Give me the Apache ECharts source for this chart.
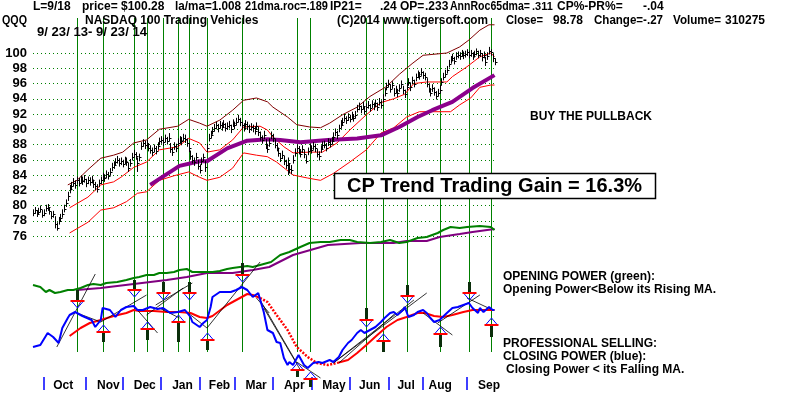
<!DOCTYPE html>
<html><head><meta charset="utf-8">
<script src="https://cdn.jsdelivr.net/npm/echarts@6/dist/echarts.min.js"></script>
<style>html,body{margin:0;padding:0;background:#fff}#c{width:800px;height:395px}</style>
</head><body><div id="c"></div>
<script>
// ---------- DATA (trading-day index 0 = 9/23/13) ----------
const closes = [
79.0,79.4,78.9,79.2,79.6,78.8,79.0,79.7,79.8,79.3,78.6,78.9,
77.6,77.1,78.0, 78.4,78.9,79.6,80.3, 81.2,82.2,82.6,
83.0,82.7,83.3,83.0,83.4, 83.2,83.5,82.9,83.3,83.1,83.4,82.8,
82.6,82.2,82.9, 83.3,83.8,83.6,84.1,83.9,84.4, 85.0,85.3,85.7,
86.0,85.6,85.8,85.5,85.9,85.7,84.9,85.6, 86.4,86.8,86.5, 85.6,86.3,
87.8,88.2,87.9,88.1,87.6, 87.3,87.0,87.5,87.2,87.8,88.4,
88.6,88.3,88.8,88.5,88.9, 87.4,87.0,87.8,87.5, 88.2,88.6,88.4,88.9,88.7,88.2,
87.5,86.5,86.0,85.7, 86.4,85.2,84.7,85.8,86.3,85.0, 87.6,88.9,89.3,89.8,90.2,
90.5,90.1,90.6,90.3,90.7,90.2, 90.4,90.6,90.0,90.8,90.5,91.0,91.4,90.9,
90.5,90.2,90.7,90.4,90.0,90.3, 90.1,89.8,90.4,89.6,89.0,88.6,89.2,
88.0,87.4,88.2,89.2,88.8, 88.0,87.6,86.9,86.2,86.6, 85.8,85.3,85.6,84.8,84.6,
86.0,86.9,87.5,87.2,86.8,87.4, 86.7,85.9,87.1,87.6,87.3, 87.8,87.5,86.8,86.5,87.4,87.9,
88.0,87.6,88.3,88.1,88.5, 89.0,89.6,89.2,90.1,90.6,
91.0,91.5,91.2,91.6,91.4,91.8,91.5,91.9, 92.7,93.0,92.6,
93.1,92.4,92.9,93.2,92.8,93.3,93.0, 93.4,92.9,93.6,93.2,94.0,
94.8,95.6,96.0,95.3,95.8,94.8, 95.2,94.7,95.4,95.9,95.1,94.6,
95.6,96.2,95.5,96.4,96.0, 96.8,97.2,97.0,97.5,97.1,96.9,
96.0,95.3,94.8,95.4, 94.9,94.4,94.8,95.2, 96.2,96.9,97.3,97.8,98.6,
99.1,99.4,99.0,99.6,99.8,99.6, 100.0,99.7,99.9,100.1,99.8,
100.0,99.6,99.9,100.2,99.8,100.0,99.5,99.8, 98.8,99.6,100.3, 100.1,99.3,98.78
];
const highs = [
79.5,79.8,79.4,79.7,80.0,79.4,79.5,80.1,80.2,79.8,79.2,79.3,
78.6,77.8,78.5, 78.9,79.5,80.1,80.8, 81.8,82.7,83.1,
83.6,83.3,83.8,83.6,83.9, 83.8,84.0,83.5,83.8,83.7,83.9,83.4,
83.1,82.8,83.4, 83.8,84.3,84.1,84.6,84.4,84.9, 85.6,85.8,86.2,
86.5,86.2,86.3,86.0,86.4,86.3,85.6,86.1, 86.9,87.3,87.0, 86.3,86.8,
88.3,88.7,88.5,88.6,88.2, 87.9,87.6,88.0,87.8,88.3,88.9,
89.1,88.9,89.3,89.0,89.5, 88.2,87.6,88.3,88.1, 88.8,89.1,89.0,89.4,89.3,88.8,
88.2,87.2,86.6,86.3, 86.9,86.0,85.4,86.3,86.8,85.9, 88.1,89.4,89.8,90.3,90.7,
91.0,90.7,91.1,90.9,91.2,90.8, 90.9,91.1,90.6,91.3,91.0,91.5,91.9,91.5,
91.0,90.8,91.2,91.0,90.6,90.8, 90.6,90.4,90.9,90.3,89.7,89.2,89.8,
88.7,88.1,88.8,89.7,89.4, 88.7,88.2,87.6,86.9,87.2, 86.5,86.0,86.3,85.5,85.3,
86.6,87.5,88.0,87.8,87.4,87.9, 87.3,86.6,87.6,88.1,87.9, 88.3,88.1,87.4,87.1,87.9,88.4,
88.5,88.2,88.8,88.7,89.0, 89.6,90.1,89.8,90.6,91.2,
91.5,92.0,91.7,92.1,91.9,92.3,92.0,92.4, 93.2,93.5,93.1,
93.6,93.0,93.4,93.7,93.3,93.8,93.5, 93.9,93.5,94.1,93.8,94.6,
95.4,96.1,96.5,95.9,96.3,95.4, 95.7,95.3,95.9,96.4,95.7,95.2,
96.1,96.7,96.1,96.9,96.5, 97.3,97.7,97.5,98.0,97.6,97.4,
96.7,95.9,95.4,95.9, 95.5,95.0,95.3,95.8, 96.7,97.4,97.8,98.3,99.1,
99.6,99.9,99.5,100.1,100.2,100.1, 100.4,100.2,100.3,100.5,100.3,
100.4,100.1,100.3,100.6,100.3,100.4,100.0,100.2, 99.5,100.1,100.8, 100.5,99.9,99.3
];
const lows = [
78.6,78.9,78.5,78.8,79.1,78.4,78.6,79.2,79.3,78.8,78.2,78.4,
77.0,76.7,77.5, 77.9,78.4,79.1,79.8, 80.6,81.6,82.0,
82.5,82.2,82.8,82.5,82.9, 82.7,83.0,82.4,82.8,82.6,82.9,82.3,
82.0,81.7,82.4, 82.8,83.3,83.1,83.6,83.4,83.9, 84.5,84.8,85.2,
85.5,85.1,85.3,85.0,85.4,85.2,84.4,85.1, 85.9,86.3,86.0, 84.4,85.8,
87.3,87.7,87.4,87.6,87.1, 86.8,86.5,87.0,86.7,87.3,87.9,
88.1,87.8,88.3,88.0,88.4, 86.9,86.5,87.3,87.0, 87.7,88.1,87.9,88.4,88.2,87.7,
87.0,86.0,85.5,85.2, 85.9,84.7,84.2,85.3,85.8,84.4, 87.0,88.4,88.8,89.3,89.7,
90.0,89.6,90.1,89.8,90.2,89.7, 89.9,90.1,89.5,90.3,90.0,90.5,90.9,90.4,
90.0,89.7,90.2,89.9,89.5,89.8, 89.6,89.3,89.9,89.1,88.5,88.1,88.7,
87.4,86.9,87.7,88.7,88.3, 87.5,87.1,86.4,85.7,86.1, 85.3,84.8,84.0,84.2,84.1,
85.5,86.4,87.0,86.7,86.3,86.9, 86.2,85.5,86.6,87.1,86.8, 87.3,87.0,86.3,85.9,86.9,87.4,
87.5,87.1,87.8,87.6,88.0, 88.5,89.1,88.7,89.6,90.1,
90.5,91.0,90.7,91.1,90.9,91.3,91.0,91.4, 92.2,92.5,92.1,
92.6,91.9,92.4,92.7,92.3,92.8,92.5, 92.9,92.4,93.1,92.7,93.5,
94.3,95.1,95.5,94.8,95.3,94.3, 94.7,94.2,94.9,95.4,94.6,94.1,
95.1,95.7,95.0,95.9,95.5, 96.3,96.7,96.5,97.0,96.6,96.4,
95.5,94.8,94.3,94.9, 94.4,93.9,94.3,94.7, 95.7,96.4,96.8,97.3,98.1,
98.6,98.9,98.5,99.1,99.3,99.1, 99.5,99.2,99.4,99.6,99.3,
99.5,99.1,99.4,99.7,99.3,99.5,98.9,99.3, 98.3,99.1,99.8, 99.6,98.8,98.4
];
// bands [day, price]
const upperBand = [[19,82.7],[24,83.3],[30,84.7],[37,86.2],[44,86.6],[49,87.0],[55,88.2],[62,88.6],[69,90.0],[79,90.4],[85,91.3],[91,90.8],[95,90.4],[102,91.2],[109,92.5],[115,93.8],[122,94.1],[128,93.6],[131,92.9],[139,91.6],[144,90.6],[151,90.3],[157,90.2],[162,90.8],[169,91.9],[177,92.9],[184,94.3],[193,95.6],[200,97.2],[207,98.6],[213,99.7],[226,100.0],[233,100.8],[238,101.7],[244,103.0],[249,103.7],[252,103.7]];
const midBand = [[20,79.7],[30,81.1],[37,82.7],[44,83.1],[48,83.7],[55,85.0],[62,85.7],[69,87.3],[79,87.7],[85,88.8],[91,88.2],[95,87.0],[102,87.3],[109,88.6],[115,90.3],[124,90.4],[128,89.9],[131,89.0],[137,87.7],[142,86.9],[151,87.0],[158,87.0],[166,88.2],[173,89.9],[182,91.9],[190,93.5],[197,94.0],[203,94.6],[208,96.0],[215,96.2],[226,96.2],[229,96.9],[237,98.2],[244,99.5],[250,100.0],[252,99.5]];
const lowBand = [[20,76.4],[30,77.8],[37,79.4],[44,79.7],[51,80.5],[57,81.6],[62,81.8],[69,83.3],[77,83.9],[85,84.4],[91,83.7],[95,83.3],[102,83.7],[109,84.9],[115,86.9],[122,86.6],[128,86.4],[133,85.7],[142,84.0],[150,83.6],[157,83.3],[164,84.2],[173,85.7],[182,87.3],[190,89.5],[197,90.2],[204,91.6],[211,92.3],[228,92.3],[233,93.2],[239,94.1],[244,95.5],[250,95.8],[252,95.8]];
const priceMA = [[64,82.7],[80,85.2],[91,85.8],[95,85.8],[106,87.5],[117,88.5],[128,88.7],[135,88.6],[146,88.3],[161,88.6],[177,88.8],[190,89.2],[200,90.3],[210,91.6],[218,92.5],[229,93.6],[240,95.4],[252,97.1]];
// indicator panel (arbitrary power units)
const openingPower = [[0,95],[4,93],[7,88],[9,90],[12,87],[15,88],[19,90],[22,90],[26,92],[30,95],[33,96],[37,95],[40,97],[46,98],[51,100],[55,102],[58,103],[62,105],[66,105],[69,107],[73,107],[77,108],[80,110],[84,111],[87,108],[91,108],[95,108],[98,108],[102,109],[106,111],[109,112],[113,113],[117,114],[120,113],[124,115],[128,117],[130,118],[135,125],[140,128],[146,133],[151,137],[157,138],[162,138],[168,140],[173,140],[177,138],[184,137],[190,138],[195,140],[200,137],[204,138],[210,142],[215,143],[221,147],[224,150],[228,153],[233,152],[237,153],[244,154],[250,153],[252,150]];
const openingPowerMA = [[24,90],[37,92],[55,96],[73,100],[84,103],[95,107],[109,107],[120,110],[129,113],[142,125],[161,135],[179,137],[197,137],[204,139],[215,139],[222,143],[233,146],[240,148],[252,151]];
const closingPower = [[0,33],[4,35],[8,47],[9,48],[11,43],[14,37],[16,52],[19,62],[20,65],[23,68],[27,64],[32,60],[34,53],[37,60],[38,72],[42,70],[45,63],[48,70],[51,73],[55,74],[57,70],[60,70],[64,73],[68,71],[71,72],[75,67],[79,68],[83,70],[86,63],[87,58],[91,53],[93,57],[95,60],[97,73],[98,83],[102,88],[108,88],[111,90],[114,93],[117,90],[120,83],[123,87],[126,68],[128,50],[129,48],[131,47],[133,38],[135,37],[137,22],[139,15],[140,18],[142,15],[145,25],[148,15],[150,12],[153,17],[156,18],[158,17],[162,20],[164,18],[167,23],[169,30],[172,37],[174,40],[177,47],[179,50],[181,47],[184,50],[187,53],[190,58],[192,62],[195,67],[197,68],[199,65],[202,70],[203,73],[205,63],[208,65],[210,68],[213,70],[215,67],[217,62],[219,58],[222,60],[226,67],[229,72],[232,73],[235,75],[238,77],[240,72],[243,67],[244,72],[246,68],[249,73],[251,70],[252,70]];
const closingPowerMA = [[20,44],[26,52],[31,57],[37,60],[44,64],[51,67],[55,70],[58,69],[66,69],[73,68],[80,68],[86,67],[91,63],[95,62],[98,64],[106,75],[113,82],[117,86],[120,85],[124,82],[128,78],[133,65],[139,50],[144,33],[150,23],[155,17],[161,15],[166,17],[172,20],[177,27],[182,35],[188,45],[193,53],[199,60],[204,63],[210,67],[214,67],[219,64],[224,63],[229,65],[235,68],[240,70],[248,70],[252,70]];
const cpMaFallingFrom = 124, cpMaFallingTo = 166;
// signals
const signalDays = [24,38,55,62,71,79,85,95,114,144,151,182,191,204,222,238,250];
const arrowDir   = [-1,1,-1,1,-1,1,-1,1,-1,1,1,-1,1,-1,1,-1,1];
const arrowTip   = [72,55,83,58,80,65,80,47,98,17,8,53,46,77,53,80,62];
const arrowTail  = [90,38,100,40,98,38,98,30,117,3,-7,72,28,95,33,98,43];
const trendLines = [[13,33,34,106],[24,67,37,58],[37,58,62,85],[57,70,68,47],[62,65,82,92],[67,75,87,97],[69,72,80,62],[84,68,95,52],[95,52,124,118],[122,82,129,67],[124,80,144,17],[126,72,146,10],[144,18,157,2],[164,17,215,87],[164,17,208,80],[167,17,198,67],[213,67,229,45],[221,57,244,85],[237,82,251,70]];
// axis
const monthNames = ['Oct','Nov','Dec','Jan','Feb','Mar','Apr','May','Jun','Jul','Aug','Sep'];
const monthStartDays = [6,29,49,70,91,110,131,152,173,194,213,237];
const monthLabelDays = [11,35,55,76,96,116,137,158,178,199,216,243];
const priceMin = 76, priceMax = 100, priceStep = 2;

// ---------- CHART ----------
const FONT = '"Liberation Sans", Arial, sans-serif';
const LASTDAY = closes.length - 1;
const chart = echarts.init(document.getElementById('c'), null, {renderer: 'canvas'});
const G = {left: 33, width: 461.5};
const mctx = document.createElement('canvas').getContext('2d');
function xAx(i, extra) { return Object.assign({type: 'value', gridIndex: i, min: 0, max: LASTDAY, show: false}, extra || {}); }
function ln(data, color, width, g, extra) {
  return Object.assign({type: 'line', xAxisIndex: g, yAxisIndex: g, data: data, symbol: 'none', showSymbol: false,
    clip: false, silent: true, lineStyle: {color: color, width: width}, z: 3}, extra || {});
}
// text; optional w = width the text should occupy (matches the original bitmap font widths)
function txt(x, y, s, size, w, extra) {
  const font = 'bold ' + size + 'px ' + FONT;
  let sx = 1;
  if (w) { mctx.font = font; sx = w / mctx.measureText(s).width; }
  return {type: 'text', x: x, y: y, scaleX: sx, scaleY: 1, z: 100, silent: true,
    style: Object.assign({text: s, font: font, fill: '#000', verticalAlign: 'middle'}, extra || {})};
}
const cpSolidA = closingPowerMA.filter(p => p[0] <= cpMaFallingFrom);
const cpSolidB = closingPowerMA.filter(p => p[0] >= cpMaFallingTo);
const cpFall = closingPowerMA.filter(p => p[0] >= cpMaFallingFrom && p[0] <= cpMaFallingTo);

const option = {
  animation: false,
  backgroundColor: '#fff',
  grid: [
    {left: G.left, width: G.width, top: 53, height: 183},
    {left: G.left, width: G.width, top: 18, height: 334},
    {left: G.left, width: G.width, top: 220, height: 160},
    {left: G.left, width: G.width, top: 376, height: 1}
  ],
  xAxis: [xAx(0), xAx(1), xAx(2), xAx(3, {
    show: true,
    axisLine: {show: false},
    splitLine: {show: false},
    axisTick: {show: true, customValues: monthStartDays, length: 13, lineStyle: {color: '#0000ff', width: 1.5}},
    axisLabel: {show: true, customValues: monthLabelDays, align: 'left', margin: 3,
      formatter: v => monthNames[monthLabelDays.indexOf(v)] || '',
      fontFamily: FONT, fontWeight: 'bold', fontSize: 12, color: '#000'}
  })],
  yAxis: [
    {type: 'value', gridIndex: 0, min: priceMin, max: priceMax, interval: priceStep,
      axisLine: {show: false}, axisTick: {show: false},
      axisLabel: {margin: 6, fontFamily: FONT, fontWeight: 'bold', fontSize: 13, color: '#000'},
      splitLine: {show: true, lineStyle: {color: '#008000', type: [1, 3], width: 1}}},
    {type: 'value', gridIndex: 1, min: 0, max: 1, show: false},
    {type: 'value', gridIndex: 2, min: 0, max: 160, show: false},
    {type: 'value', gridIndex: 3, min: 0, max: 1, show: false}
  ],
  series: [
    {type: 'custom', xAxisIndex: 1, yAxisIndex: 1, silent: true, z: 1,
      data: signalDays.map(d => [d]),
      renderItem: (p, api) => {
        const a = api.coord([api.value(0), 0]), b = api.coord([api.value(0), 1]);
        const x = Math.round(a[0]) + 0.5;
        return {type: 'line', shape: {x1: x, y1: a[1], x2: x, y2: b[1]}, style: {stroke: '#008000', lineWidth: 1}};
      }},
    ln(upperBand, '#800000', 1, 0),
    ln(midBand, '#ff0000', 1, 0),
    ln(lowBand, '#ff0000', 1, 0),
    ln(priceMA, '#8b008b', 4, 0),
    {type: 'custom', xAxisIndex: 0, yAxisIndex: 0, silent: true, z: 5, clip: false,
      data: closes.map((c, i) => [i, highs[i], lows[i], c]),
      renderItem: (p, api) => {
        const i = api.value(0);
        const h = api.coord([i, api.value(1)]), l = api.coord([i, api.value(2)]), c = api.coord([i, api.value(3)]);
        const x = Math.round(h[0]) + 0.5;
        return {type: 'group', children: [
          {type: 'line', shape: {x1: x, y1: h[1], x2: x, y2: l[1]}, style: {stroke: '#000', lineWidth: 1}},
          {type: 'line', shape: {x1: x, y1: Math.round(c[1]) + 0.5, x2: x + 2, y2: Math.round(c[1]) + 0.5}, style: {stroke: '#000', lineWidth: 1}}
        ]};
      }},
    ln(openingPowerMA, '#800080', 2, 2),
    ln(openingPower, '#008000', 2, 2),
    {type: 'custom', xAxisIndex: 2, yAxisIndex: 2, silent: true, z: 4, clip: false,
      data: trendLines,
      renderItem: (p, api) => {
        const a = api.coord([api.value(0), api.value(1)]), b = api.coord([api.value(2), api.value(3)]);
        return {type: 'line', shape: {x1: a[0], y1: a[1], x2: b[0], y2: b[1]}, style: {stroke: '#000', lineWidth: 0.8}};
      }},
    ln(cpSolidA, '#ff0000', 2, 2),
    ln(cpSolidB, '#ff0000', 2, 2),
    ln(cpFall, '#ff0000', 2.5, 2, {lineStyle: {color: '#ff0000', width: 2.5, type: [2, 1.5]}}),
    ln(closingPower, '#0000ff', 2, 2, {z: 5}),
    {type: 'custom', xAxisIndex: 2, yAxisIndex: 2, silent: true, z: 6, clip: false,
      data: signalDays.map((d, k) => [d, arrowDir[k], arrowTip[k], arrowTail[k]]),
      renderItem: (p, api) => {
        const d = api.value(0), dir = api.value(1);
        const tip = api.coord([d, api.value(2)]), tail = api.coord([d, api.value(3)]);
        const x = Math.round(tip[0]) + 0.5;
        const base = dir < 0 ? tip[1] - 7 : tip[1] + 7;
        return {type: 'group', children: [
          {type: 'line', shape: {x1: x, y1: tail[1], x2: x, y2: base}, style: {stroke: '#0b2e0b', lineWidth: 3}},
          {type: 'polygon', shape: {points: [[x - 6, base], [x + 6, base], [x, tip[1]]]}, style: {fill: 'none', stroke: '#0000ff', lineWidth: 1}},
          {type: 'line', shape: {x1: x - 7, y1: base, x2: x + 7, y2: base}, style: {stroke: '#ff0000', lineWidth: 2}}
        ]};
      }}
  ],
  graphic: [
    txt(33, 7, 'L=9/18', 12), txt(82, 7, 'price= $100.28', 12), txt(175, 7, 'la/ma=1.008', 12, 66),
    txt(245, 7, '21dma.roc=.189', 12, 83), txt(330, 7, 'IP21=', 12), txt(380, 7, '.24', 12),
    txt(400, 7, 'OP=', 12), txt(425, 7, '.233', 12),
    txt(450, 7, 'AnnRoc65dma=', 12, 80), txt(532, 7, '.311', 11),
    txt(557, 7, 'CP%-PR%=', 12), txt(643, 7, '-.04', 12),
    txt(2, 21, 'QQQ', 12, 25), txt(85, 21, 'NASDAQ 100 Trading Vehicles', 12),
    txt(337, 21, '(C)2014 www.tigersoft.com', 12, 151), txt(506, 21, 'Close=', 12, 37), txt(553, 21, '98.78', 12),
    txt(594, 21, 'Change=-.27', 12, 69), txt(673, 21, 'Volume=', 12, 48), txt(725, 21, '310275', 12),
    txt(37, 33, '9/ 23/ 13- 9/ 23/ 14', 12, 110),
    txt(530, 117, 'BUY THE PULLBACK', 12),
    {type: 'rect', z: 100, silent: true, shape: {x: 334.5, y: 173.5, width: 321, height: 25}, style: {fill: '#fff', stroke: '#000', lineWidth: 1.5}},
    txt(494.5, 186, 'CP Trend Trading Gain = 16.3%', 20, 0, {align: 'center'}),
    txt(503, 277, 'OPENING POWER (green):', 12), txt(503, 290, 'Opening Power<Below its Rising MA.', 12),
    txt(503, 344, 'PROFESSIONAL SELLING:', 12), txt(503, 357, 'CLOSING POWER (blue):', 12),
    txt(506, 370, 'Closing Power < its Falling MA.', 12)
  ]
};
chart.setOption(option);
</script></body></html>
